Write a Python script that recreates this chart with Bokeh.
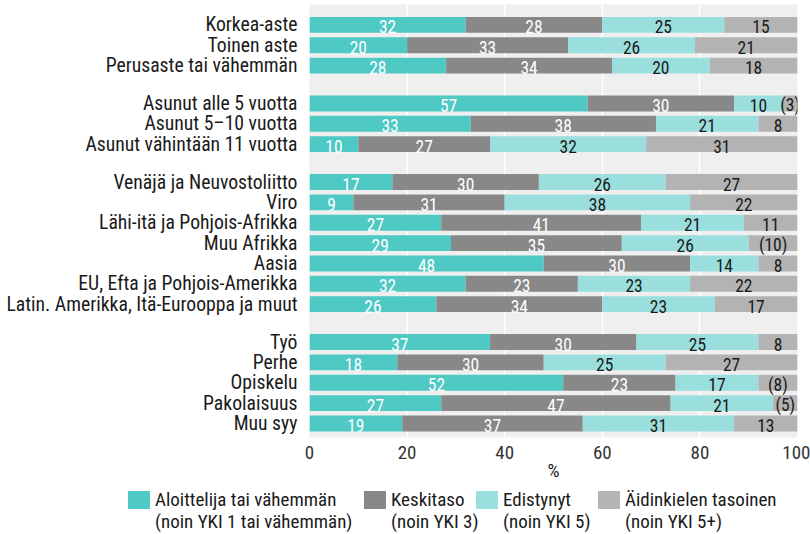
from bokeh.plotting import figure
from bokeh.layouts import column
from bokeh.models import ColumnDataSource, FixedTicker, Range1d, Div
from bokeh.core.properties import value
from bokeh.embed import file_html
from bokeh.resources import INLINE

kategoriat = [
    "Korkea-aste", "Toinen aste", "Perusaste tai vähemmän",
    "Asunut alle 5 vuotta", "Asunut 5–10 vuotta", "Asunut vähintään 11 vuotta",
    "Venäjä ja Neuvostoliitto", "Viro", "Lähi-itä ja Pohjois-Afrikka", "Muu Afrikka",
    "Aasia", "EU, Efta ja Pohjois-Amerikka", "Latin. Amerikka, Itä-Eurooppa ja muut",
    "Työ", "Perhe", "Opiskelu", "Pakolaisuus", "Muu syy",
]
ryhmien_koot = [3, 3, 7, 5]
aloittelija = [32, 20, 28, 57, 33, 10, 17, 9, 27, 29, 48, 32, 26, 37, 18, 52, 27, 19]
keskitaso = [28, 33, 34, 30, 38, 27, 30, 31, 41, 35, 30, 23, 34, 30, 30, 23, 47, 37]
edistynyt = [25, 26, 20, 10, 21, 32, 26, 38, 21, 26, 14, 23, 23, 25, 25, 17, 21, 31]
aidinkieli = [15, 21, 18, 3, 8, 31, 27, 22, 11, 10, 8, 22, 17, 8, 27, 8, 5, 13]
pieni_otos = ["Asunut alle 5 vuotta", "Muu Afrikka", "Opiskelu", "Pakolaisuus"]
sarjat = [
    "Aloittelija tai vähemmän\n(noin YKI 1 tai vähemmän)",
    "Keskitaso\n(noin YKI 3)",
    "Edistynyt\n(noin YKI 5)",
    "Äidinkielen tasoinen\n(noin YKI 5+)",
]
x_ticks = [0, 20, 40, 60, 80, 100]

FONT = "Roboto Condensed, Roboto"
colors = ["#4EC9C4", "#888888", "#9ADFDD", "#B3B3B3"]
text_colors = ["white", "white", "#1A1A1A", "#1A1A1A"]

ys = []
pos = 0
for n in ryhmien_koot:
    for _ in range(n):
        ys.append(-pos)
        pos += 100
    pos += 86

values = [aloittelija, keskitaso, edistynyt, aidinkieli]
keys = ["a", "k", "e", "d"]
src = ColumnDataSource(dict(y=ys, a=aloittelija, k=keskitaso, e=edistynyt, d=aidinkieli))

p = figure(width=810, height=486, output_backend="svg", toolbar_location=None,
           x_range=Range1d(0, 100), y_range=Range1d(ys[-1] - 69, 100),
           min_border_left=309, min_border_right=13, min_border_top=4, min_border_bottom=49)
p.background_fill_color = "#EFEFEF"
p.border_fill_color = "white"
p.outline_line_color = None

rs = p.hbar_stack(keys, y="y", height=78, color=colors, source=src, line_color=None)

lx, ly, lt, lc = [], [], [], []
for i, cat in enumerate(kategoriat):
    left = 0
    for s in range(4):
        v = values[s][i]
        lx.append(left + v / 2)
        ly.append(ys[i])
        txt = str(v)
        if s == 3 and cat in pieni_otos:
            txt = "(" + txt + ")"
        lt.append(txt)
        lc.append(text_colors[s])
        left += v
lsrc = ColumnDataSource(dict(x=lx, y=ly, t=lt, c=lc))
p.text(x="x", y="y", text="t", text_color="c", source=lsrc, text_align="center",
       text_baseline="middle", y_offset=2, text_font=value(FONT), text_font_size="17.5px")

p.yaxis.ticker = FixedTicker(ticks=ys)
p.yaxis.major_label_overrides = {y: c for y, c in zip(ys, kategoriat)}
p.yaxis.axis_line_color = None
p.yaxis.major_tick_line_color = None
p.yaxis.minor_tick_line_color = None
p.yaxis.major_label_standoff = 6
p.yaxis.major_label_text_font = FONT
p.yaxis.major_label_text_font_size = "19.7px"
p.yaxis.major_label_text_color = "#1A1A1A"

p.xaxis.ticker = FixedTicker(ticks=x_ticks)
p.xaxis.axis_line_color = None
p.xaxis.major_tick_line_color = None
p.xaxis.minor_tick_line_color = None
p.xaxis.major_label_standoff = 2
p.xaxis.major_label_text_font = FONT
p.xaxis.major_label_text_font_size = "19px"
p.xaxis.major_label_text_color = "#333333"
p.xaxis.axis_label = "%"
p.xaxis.axis_label_standoff = -3
p.xaxis.axis_label_text_font = FONT
p.xaxis.axis_label_text_font_size = "19px"
p.xaxis.axis_label_text_font_style = "normal"
p.xaxis.axis_label_text_color = "#1A1A1A"

p.ygrid.grid_line_color = None
p.xgrid.ticker = FixedTicker(ticks=[20, 40, 60, 80])
p.xgrid.grid_line_color = "white"
p.xgrid.grid_line_width = 1.5
p.xgrid.level = "underlay"

# legend strip as HTML (layout positions of the legend entries)
leg_x = [128, 364, 476, 598]
items_html = ""
for lx_, c, s in zip(leg_x, colors, sarjat):
    l1, l2 = s.split("\n")
    items_html += (
        f'<div style="position:absolute;left:{lx_}px;top:3px;display:flex;align-items:flex-start;">'
        f'<span style="display:inline-block;width:22px;height:18px;background:{c};'
        f'margin-top:2px;margin-right:5px;flex:none;"></span>'
        f'<span style="white-space:nowrap;">{l1}<br>{l2}</span></div>'
    )
legend_html = (
    '<div style="position:relative;width:810px;height:48px;'
    "font-family:'Roboto Condensed',Roboto,sans-serif;font-size:19px;line-height:22px;"
    'color:#1A1A1A;">' + items_html + "</div>"
)
lg = Div(text=legend_html, width=810, height=48, margin=(0, 0, 0, 0))

open("out.html", "w").write(file_html(column(p, lg, spacing=0), INLINE))
